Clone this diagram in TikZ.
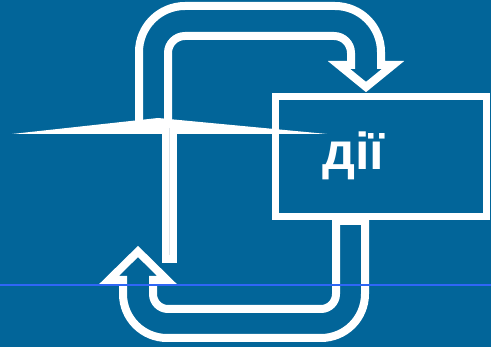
\documentclass[tikz,border=0pt]{standalone}
\usepackage{fontspec}
\usepackage{tikz}
\usetikzlibrary{positioning}
\newfontfamily\uafont{Liberation Sans}
\definecolor{bgblue}{RGB}{2,101,153}
\definecolor{lineblue}{RGB}{48,102,246}
\definecolor{seamgray}{RGB}{222,228,234}

\begin{document}
\begin{tikzpicture}[x=1pt, y=-1pt,
		loopline/.style={draw=white, line width=8pt, line join=miter},
		actbox/.style={draw=white, line width=7pt, minimum width=211pt, minimum height=120.5pt, inner sep=0pt},
		acttext/.style={text=white, inner sep=0pt, font=\uafont\bfseries\fontsize{52}{60}\selectfont}]
		\fill[bgblue] (0,0) rectangle (491,347);
		\useasboundingbox (0,0) rectangle (491,347);
		% upper loop arrow
		\draw[loopline] (139,125) -- (139,52) arc (180:270:46) -- (335,6) arc (270:360:46)
			-- (381,65) -- (393,65) -- (366,87) -- (339,65) -- (351,65)
			-- (351,53) arc (0:-90:17) -- (185,36) arc (270:180:17) -- (168,125) -- cycle;
		% lower loop arrow
		\draw[loopline] (336,221) -- (336,294) arc (0:90:15) -- (168,309) arc (90:180:15)
			-- (153,280) -- (167,280) -- (138,251.5) -- (109,280) -- (123,280)
			-- (123,294) arc (180:90:44) -- (321,338) arc (90:0:44) -- (365,221) -- cycle;
		\fill[white] (12,134) -- (158,118) -- (327,134) -- cycle;
		\node[actbox] (box) at (381,156.75) {};
		\node[acttext, anchor=base] (label) at (353.5,170) {дії};
		\fill[white] (161.5,127) rectangle (176.5,263);
		\draw[seamgray, line width=1pt] (169.5,128) -- (169.5,255);
		\draw[lineblue, line width=2.5pt] (0,285) -- (491,285);
	\end{tikzpicture}
\end{document}
